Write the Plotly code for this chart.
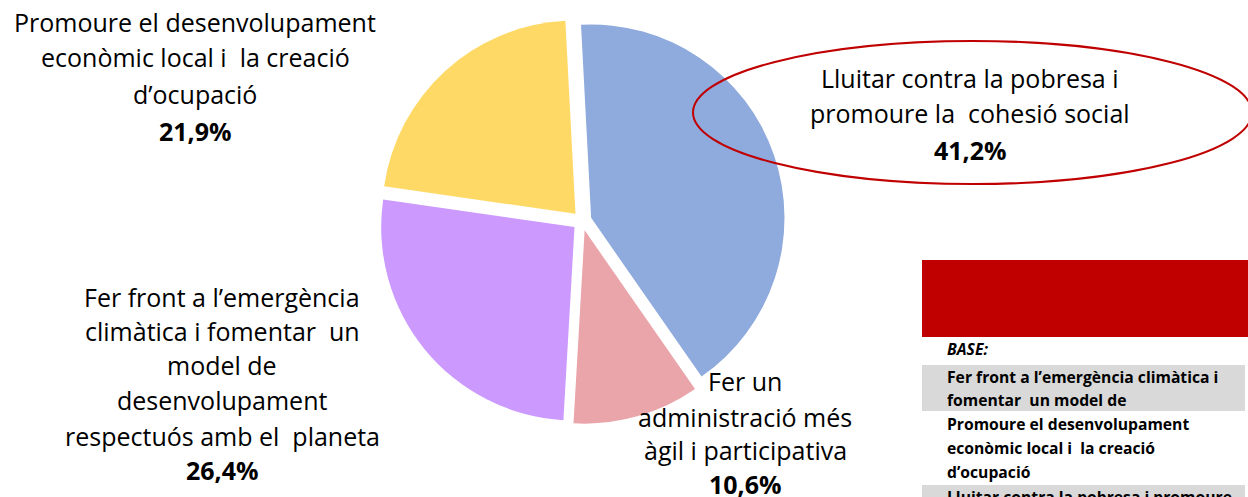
import plotly.graph_objects as go

W, H = 1248, 497

categories = [
    "Lluitar contra la pobresa i promoure la cohesió social",
    "Fer un administració més àgil i participativa",
    "Fer front a l’emergència climàtica i fomentar un model de desenvolupament respectuós amb el planeta",
    "Promoure el desenvolupament econòmic local i la creació d’ocupació",
]
values = [41.2, 10.6, 26.4, 21.9]
value_labels = ["41,2%", "10,6%", "26,4%", "21,9%"]
colors = ["#8FAADC", "#EAA5AA", "#CC99FF", "#FFD966"]

label_lines = [
    ["Lluitar contra la pobresa i", "promoure la  cohesió social"],
    ["Fer un", "administració més", "àgil i participativa"],
    ["Fer front a l’emergència", "climàtica i fomentar  un", "model de", "desenvolupament",
     "respectuós amb el  planeta"],
    ["Promoure el desenvolupament", "econòmic local i  la creació", "d’ocupació"],
]

table_base = "BASE:"
table_rows = [
    ["Fer front a l’emergència climàtica i", "fomentar  un model de"],
    ["Promoure el desenvolupament", "econòmic local i  la creació", "d’ocupació"],
    ["Lluitar contra la pobresa i promoure"],
]

def px(x):
    return x / W

def py(y):
    return 1 - y / H

FONT = "Open Sans"

fig = go.Figure()
fig.add_trace(go.Pie(
    values=values,
    labels=categories,
    marker=dict(colors=colors, line=dict(width=0)),
    sort=False,
    direction="clockwise",
    rotation=-3,
    pull=0.05,
    textinfo="none",
    hoverinfo="label+percent",
    showlegend=False,
    domain=dict(x=[px(379), px(785)], y=[py(424), py(18)]),
))

annotations = []
label_pos = [
    (970, [78, 113, 150]),
    (745, [381, 417, 450, 484]),
    (222, [297, 331, 365, 400, 436, 470]),
    (195, [22, 57, 94, 131]),
]
for lines, vl, (cx, ys) in zip(label_lines, value_labels, label_pos):
    texts = lines + [vl]
    for i, (t, y) in enumerate(zip(texts, ys)):
        bold = i == len(texts) - 1
        annotations.append(dict(
            x=px(cx), y=py(y), xref="paper", yref="paper",
            text=f"<b>{t}</b>" if bold else t,
            showarrow=False, xanchor="center", yanchor="middle",
            font=dict(family=FONT, size=25, color="#000000"),
        ))

shapes = []
shapes.append(dict(type="circle", xref="paper", yref="paper",
                   x0=px(693), x1=px(1252), y0=py(184), y1=py(41),
                   line=dict(color="#C00000", width=2), fillcolor="rgba(0,0,0,0)"))
shapes.append(dict(type="rect", xref="paper", yref="paper",
                   x0=px(922), x1=px(1250), y0=py(337), y1=py(260),
                   line=dict(width=0), fillcolor="#C00000"))
shapes.append(dict(type="rect", xref="paper", yref="paper",
                   x0=px(922), x1=px(1245), y0=py(411), y1=py(365),
                   line=dict(width=0), fillcolor="#D9D9D9"))
shapes.append(dict(type="rect", xref="paper", yref="paper",
                   x0=px(922), x1=px(1245), y0=py(500), y1=py(485),
                   line=dict(width=0), fillcolor="#D9D9D9"))

annotations.append(dict(x=px(945), y=py(349), xref="paper", yref="paper",
                        text=f"<b><i>{table_base}</i></b>", showarrow=False,
                        xanchor="left", yanchor="middle",
                        font=dict(family=FONT, size=15.7, color="#000000")))
row_ys = [[377, 400], [424, 448, 472], [497]]
for row, ys in zip(table_rows, row_ys):
    for t, y in zip(row, ys):
        annotations.append(dict(x=px(945), y=py(y), xref="paper", yref="paper",
                                text=f"<b>{t}</b>", showarrow=False,
                                xanchor="left", yanchor="middle",
                                font=dict(family=FONT, size=15.7, color="#000000")))

fig.update_layout(
    width=W, height=H,
    margin=dict(l=0, r=0, t=0, b=0),
    paper_bgcolor="white", plot_bgcolor="white",
    annotations=annotations, shapes=shapes,
)
fig.write_html("out.html", config={"displayModeBar": False},
               post_script="document.body.style.margin='0';document.body.style.overflow='hidden';")
